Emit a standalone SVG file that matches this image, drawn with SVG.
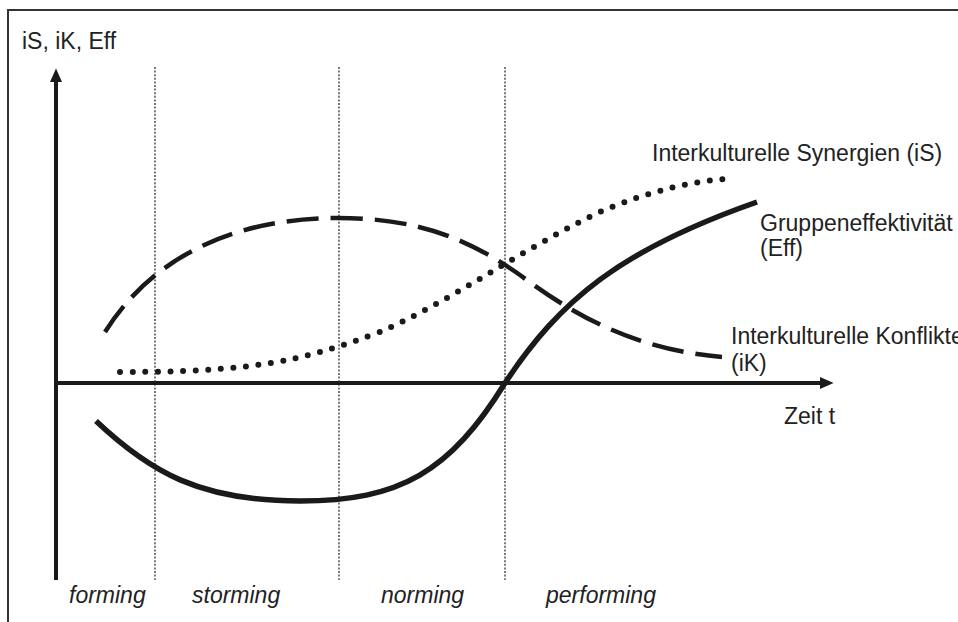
<svg xmlns="http://www.w3.org/2000/svg" width="958" height="622" viewBox="0 0 958 622">
<defs>
<style>
.t{font-family:"Liberation Sans",Arial,sans-serif;font-size:23px;fill:#222}
.it{font-style:italic}
.ax{stroke:#1a1a1a;stroke-width:4;fill:none}
.phase{stroke:#333;stroke-width:1.3;stroke-dasharray:2 1.6;fill:none}
.cur{fill:none;stroke:#1a1a1a}
</style>
<marker id="ah" markerWidth="4" markerHeight="4" refX="0" refY="2" orient="auto" markerUnits="strokeWidth">
<path d="M0,0.5 L3.4,2 L0,3.5 Z" fill="#1a1a1a"/>
</marker>
</defs>
<rect width="958" height="622" fill="#fff"/>
<g id="frame">
<path d="M8,622 V10 H958" fill="none" stroke="#333" stroke-width="2"/>
</g>
<g id="phases">
<line class="phase" x1="155" y1="67" x2="155" y2="580"/>
<line class="phase" x1="339" y1="67" x2="339" y2="580"/>
<line class="phase" x1="505" y1="67" x2="505" y2="580"/>
</g>
<g id="connectors">
<line class="ax" x1="56" y1="580" x2="56" y2="82" marker-end="url(#ah)"/>
<line class="ax" x1="56" y1="383" x2="820" y2="383" marker-end="url(#ah)"/>
</g>
<g id="curve-iK">
<path class="cur" stroke-width="4.5" stroke-dasharray="32 12" d="M105,332 C150,260 230,218 338,218 C420,218 470,240 520,275 C580,320 640,350 722,357"/>
</g>
<g id="curve-iS">
<path class="cur" stroke-width="6" stroke-linecap="round" stroke-dasharray="0 12.6" d="M120,372 C250,372 300,362 380,332 C450,302 520,250 600,212 C650,190 700,180 727,179"/>
</g>
<g id="curve-Eff">
<path class="cur" stroke-width="5.5" d="M96,421 C150,472 200,501 300,501 C400,501 450,472 505,383 C560,300 620,250 757,202"/>
</g>
<g id="labels">
<text class="t" x="22" y="49">iS, iK, Eff</text>
<text class="t" x="652" y="161">Interkulturelle Synergien (iS)</text>
<text class="t" x="760" y="231">Gruppeneffektivität</text>
<text class="t" x="760" y="256">(Eff)</text>
<text class="t" x="731" y="344">Interkulturelle Konflikte</text>
<text class="t" x="731" y="371">(iK)</text>
<text class="t" x="784" y="424">Zeit t</text>
<text class="t it" x="69" y="603">forming</text>
<text class="t it" x="192" y="603">storming</text>
<text class="t it" x="381" y="603">norming</text>
<text class="t it" x="546" y="603">performing</text>
</g>
</svg>
